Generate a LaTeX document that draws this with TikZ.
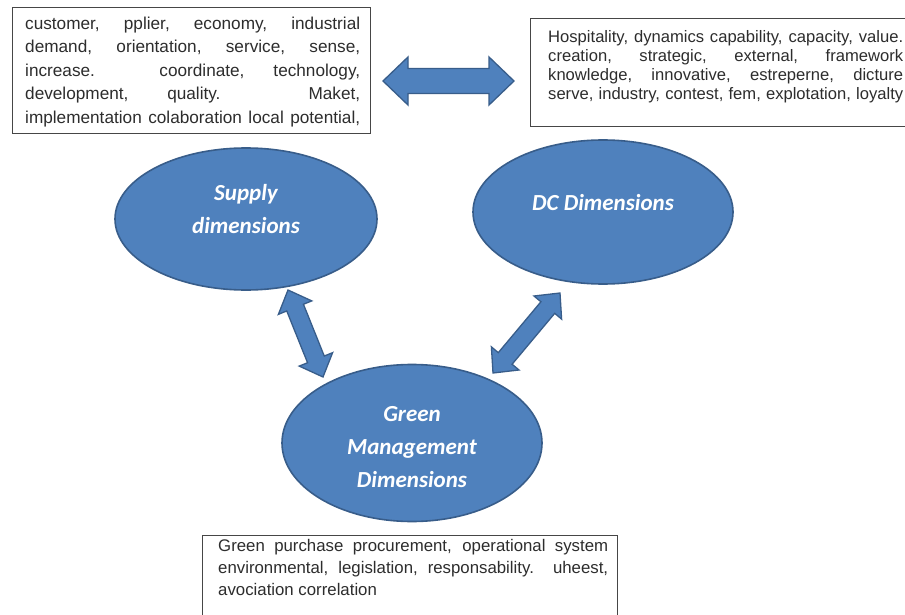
\documentclass[tikz,border=0pt]{standalone}
\usepackage{fontspec}
\setmainfont{Liberation Sans}
\newfontfamily\calibri{Carlito}
\usetikzlibrary{shapes.geometric,calc}
\definecolor{ellfill}{RGB}{79,129,189}
\definecolor{elldraw}{RGB}{56,93,138}
\definecolor{boxdraw}{RGB}{70,70,70}
\definecolor{boxtext}{RGB}{45,45,45}
\tikzset{
  ell/.style={ellipse, draw=elldraw, fill=ellfill, line width=1.6pt, inner sep=0pt},
  elltext/.style={text=white, font=\calibri\bfseries\itshape\fontsize{23}{33}\selectfont, align=center, inner sep=0pt},
  txtbox/.style={draw=boxdraw, line width=1.2pt, fill=white},
  boxtxt/.style={text=boxtext, inner sep=0pt, anchor=base west},
  fatarrow/.style={fill=ellfill, draw=elldraw, line width=1.3pt, line join=miter}
}
% \fatdbl{A}{B}{head length}{head half width}{shaft half width}
\newcommand{\fatdbl}[5]{%
  \draw[fatarrow] (#1)
    -- ($(#1)!#3!(#2)!#4!90:(#2)$)
    -- ($(#1)!#3!(#2)!#5!90:(#2)$)
    -- ($(#2)!#3!(#1)!#5!-90:(#1)$)
    -- ($(#2)!#3!(#1)!#4!-90:(#1)$)
    -- (#2)
    -- ($(#2)!#3!(#1)!#4!90:(#1)$)
    -- ($(#2)!#3!(#1)!#5!90:(#1)$)
    -- ($(#1)!#3!(#2)!#5!-90:(#2)$)
    -- ($(#1)!#3!(#2)!#4!-90:(#2)$)
    -- cycle;}
\begin{document}
\begin{tikzpicture}[x=1pt,y=-1pt]
\useasboundingbox (0,0) rectangle (905,615);
\clip (0,0) rectangle (905,615);
\fill[white] (0,0) rectangle (905,615);

% text boxes
\node[txtbox, minimum width=358pt, minimum height=126pt, anchor=north west, inner sep=0pt] (tl) at (12,7) {};
\node[boxtxt] (tltext) at (25,29.5) {\fontsize{17.2}{23.4}\selectfont\parbox[t]{335pt}{%
\makebox[335pt][s]{customer, pplier, economy, industrial}\\
\makebox[335pt][s]{demand, orientation, service, sense,}\\
\makebox[335pt][s]{increase. coordinate, technology,}\\
\makebox[335pt][s]{development, quality. Maket,}\\
\makebox[335pt][s]{implementation colaboration local potential,}}};

\node[txtbox, minimum width=390pt, minimum height=108pt, anchor=north west, inner sep=0pt] (tr) at (530,18) {};
\node[boxtxt] (trtext) at (548,43) {\fontsize{16.6}{19}\selectfont\parbox[t]{355pt}{%
\makebox[355pt][s]{Hospitality, dynamics capability, capacity, value.}\\
\makebox[355pt][s]{creation, strategic, external, framework}\\
\makebox[355pt][s]{knowledge, innovative, estreperne, dicture}\\
\makebox[355pt][s]{serve, industry, contest, fem, explotation, loyalty}}};

\node[txtbox, minimum width=415pt, minimum height=100pt, anchor=north west, inner sep=0pt] (bt) at (202,535) {};
\node[boxtxt] (bttext) at (218,551) {\fontsize{16.8}{22}\selectfont\parbox[t]{390pt}{%
\makebox[390pt][s]{Green purchase procurement, operational system}\\
\makebox[390pt][s]{environmental, legislation, responsability. uheest,}\\
avociation correlation}};

% ellipses
\node[ell, minimum width=262pt, minimum height=142pt] (supply) at (246,219) {};
\node[ell, minimum width=260pt, minimum height=144pt] (dc) at (603,212) {};
\node[ell, minimum width=260pt, minimum height=157pt] (green) at (412,443) {};

\node[elltext] (supplyT) at ($(supply.center)+(0,-10)$) {Supply\\dimensions};
\node[elltext] (dcT) at ($(dc.center)+(0,-9)$) {DC Dimensions};
\node[elltext] (greenT) at ($(green.center)+(0,4)$) {Green\\Management\\Dimensions};

% arrow end points
\coordinate (h1) at (383,81);
\coordinate (h2) at (514,81);
\coordinate (l1) at (288,290);
\coordinate (l2) at (323,377);
\coordinate (r1) at (560,293);
\coordinate (r2) at (493,373);

\fatdbl{h1}{h2}{25pt}{24pt}{12.5pt}
\fatdbl{l1}{l2}{19pt}{18pt}{9pt}
\fatdbl{r1}{r2}{19pt}{18pt}{9pt}
\end{tikzpicture}
\end{document}
